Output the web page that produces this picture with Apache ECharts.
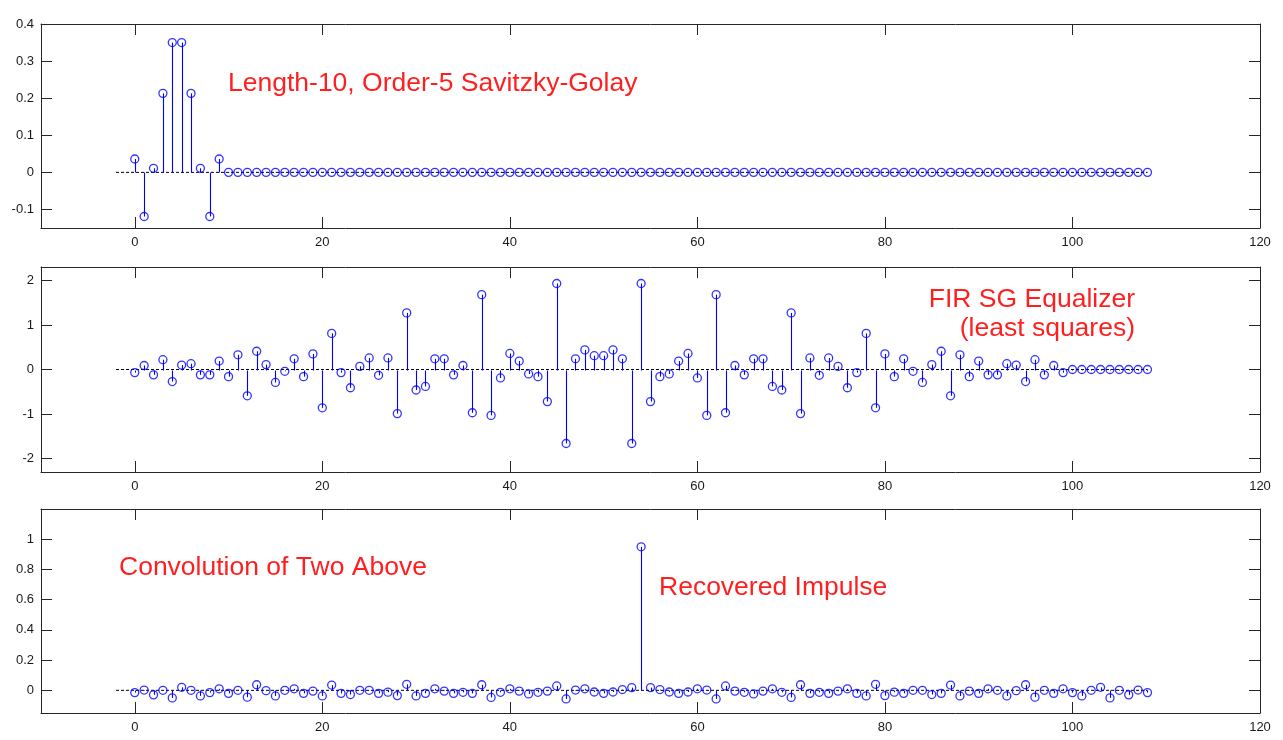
<!DOCTYPE html>
<html>
<head>
<meta charset="utf-8">
<title>Savitzky-Golay filter, equalizer and their convolution</title>
<script src="https://cdn.jsdelivr.net/npm/echarts@6/dist/echarts.min.js"></script>
<style>
  html, body { margin: 0; padding: 0; background: #ffffff; }
  #chart { width: 1283px; height: 740px; }
</style>
</head>
<body>
<div id="chart"></div>
<script>
// Tick positions for the shared sample axis and the three amplitude axes
const xTicks = [0, 20, 40, 60, 80, 100, 120];
const sgTicks = [-0.1, 0, 0.1, 0.2, 0.3, 0.4];
const eqTicks = [-2, -1, 0, 1, 2];
const convTicks = [0, 0.2, 0.4, 0.6, 0.8, 1];

// Length-10, order-5 Savitzky-Golay impulse response, shown over 109 samples
const sgFilter = [
  0.036, -0.119, 0.011, 0.213, 0.350, 0.350, 0.213, 0.011, -0.119, 0.036,
  0, 0, 0, 0, 0, 0, 0, 0, 0, 0,
  0, 0, 0, 0, 0, 0, 0, 0, 0, 0,
  0, 0, 0, 0, 0, 0, 0, 0, 0, 0,
  0, 0, 0, 0, 0, 0, 0, 0, 0, 0,
  0, 0, 0, 0, 0, 0, 0, 0, 0, 0,
  0, 0, 0, 0, 0, 0, 0, 0, 0, 0,
  0, 0, 0, 0, 0, 0, 0, 0, 0, 0,
  0, 0, 0, 0, 0, 0, 0, 0, 0, 0,
  0, 0, 0, 0, 0, 0, 0, 0, 0, 0,
  0, 0, 0, 0, 0, 0, 0, 0, 0
];

// Least-squares FIR equalizer (100 taps, then zeros)
const equalizer = [
  -0.07, 0.09, -0.12, 0.22, -0.27, 0.10, 0.13, -0.12, -0.12, 0.19,
  -0.16, 0.33, -0.59, 0.41, 0.11, -0.29, -0.04, 0.24, -0.16, 0.35,
  -0.86, 0.81, -0.07, -0.41, 0.07, 0.26, -0.13, 0.26, -0.99, 1.27,
  -0.46, -0.38, 0.24, 0.24, -0.12, 0.09, -0.97, 1.68, -1.03, -0.19,
  0.36, 0.19, -0.10, -0.16, -0.72, 1.93, -1.66, 0.24, 0.44, 0.31,
  0.31, 0.44, 0.24, -1.66, 1.93, -0.72, -0.16, -0.10, 0.19, 0.36,
  -0.19, -1.03, 1.68, -0.97, 0.09, -0.12, 0.24, 0.24, -0.38, -0.46,
  1.27, -0.99, 0.26, -0.13, 0.26, 0.07, -0.41, -0.07, 0.81, -0.86,
  0.35, -0.16, 0.24, -0.04, -0.29, 0.11, 0.41, -0.59, 0.33, -0.16,
  0.19, -0.12, -0.12, 0.13, 0.10, -0.27, 0.22, -0.12, 0.09, -0.07,
  0, 0, 0, 0, 0, 0, 0, 0, 0
];

// Filter convolved with equalizer: an approximate delayed impulse
const convolution = [
  -0.015, 0.002, -0.030, 0.000, -0.050, 0.020, 0.000, -0.037, -0.015, 0.010,
  -0.020, 0.000, -0.045, 0.037, -0.002, -0.037, 0.000, 0.010, -0.020, -0.005,
  -0.037, 0.035, -0.020, -0.028, 0.000, 0.000, -0.020, -0.012, -0.035, 0.040,
  -0.037, -0.020, 0.010, -0.005, -0.020, -0.013, -0.020, 0.037, -0.047, -0.013,
  0.010, -0.005, -0.024, -0.013, -0.005, 0.029, -0.057, 0.002, 0.010, -0.011,
  -0.020, -0.011, 0.005, 0.018, 0.950, 0.018, 0.005, -0.011, -0.020, -0.011,
  0.010, 0.002, -0.057, 0.029, -0.005, -0.013, -0.024, -0.005, 0.010, -0.013,
  -0.047, 0.037, -0.020, -0.013, -0.020, -0.005, 0.010, -0.020, -0.037, 0.040,
  -0.035, -0.012, -0.020, 0.000, 0.000, -0.028, -0.020, 0.035, -0.037, -0.005,
  -0.020, 0.010, 0.000, -0.037, -0.002, 0.037, -0.045, 0.000, -0.020, 0.010,
  -0.015, -0.037, 0.000, 0.020, -0.050, 0.000, -0.030, 0.002, -0.015
];

// Extent of the dashed stem baseline, in samples
const baselineRange = [-2, 108];

const FONT = "'Liberation Sans', Arial, Helvetica, sans-serif";
const AXIS_COLOR = '#262626';
const STEM_COLOR = '#0000ff';
const NOTE_COLOR = '#ff1f1f';

const panels = [
  { values: sgFilter,    yMin: -0.15, yMax: 0.4,  yTicks: sgTicks,   top: 24,  height: 204 },
  { values: equalizer,   yMin: -2.3,  yMax: 2.3,  yTicks: eqTicks,   top: 267, height: 205 },
  { values: convolution, yMin: -0.15, yMax: 1.2,  yTicks: convTicks, top: 509, height: 204 }
];

const chart = echarts.init(document.getElementById('chart'), null, { renderer: 'canvas' });

const grids = [], xAxes = [], yAxes = [], series = [];

function tickStyle(values) {
  return { show: true, inside: true, length: 11, customValues: values,
           lineStyle: { color: AXIS_COLOR, width: 1 } };
}
const lineStyleAxis = { show: true, onZero: false, lineStyle: { color: AXIS_COLOR, width: 1 } };
const labelText = { fontSize: 13, color: '#1a1a1a', fontFamily: FONT };

// Vertical stem from the zero line up (or down) to the sample value
function renderStem(params, api) {
  const n = api.value(0);
  const v = api.value(1);
  const base = api.coord([n, 0]);
  const tip = api.coord([n, v]);
  const px = Math.round(base[0]) + 0.5;
  return {
    type: 'line',
    shape: { x1: px, y1: Math.round(base[1]) + 0.5, x2: px, y2: tip[1] },
    style: { stroke: STEM_COLOR, lineWidth: 1.1 }
  };
}

panels.forEach((p, i) => {
  grids.push({ left: 41, width: 1219, top: p.top, height: p.height, containLabel: false });

  // bottom axis with labels, top axis mirrors the ticks
  xAxes.push(Object.assign({
    gridIndex: i, type: 'value', min: -10, max: 120, position: 'bottom',
    axisLine: lineStyleAxis, axisTick: tickStyle(xTicks), splitLine: { show: false }
  }, { axisLabel: Object.assign({ customValues: xTicks, margin: 8 }, labelText) }));
  xAxes.push({
    gridIndex: i, type: 'value', min: -10, max: 120, position: 'top',
    axisLine: lineStyleAxis, axisTick: tickStyle(xTicks), splitLine: { show: false },
    axisLabel: { show: false }
  });
  yAxes.push({
    gridIndex: i, type: 'value', min: p.yMin, max: p.yMax, position: 'left',
    axisLine: lineStyleAxis, axisTick: tickStyle(p.yTicks), splitLine: { show: false },
    axisLabel: Object.assign({ customValues: p.yTicks, margin: 7 }, labelText)
  });
  yAxes.push({
    gridIndex: i, type: 'value', min: p.yMin, max: p.yMax, position: 'right',
    axisLine: lineStyleAxis, axisTick: tickStyle(p.yTicks), splitLine: { show: false },
    axisLabel: { show: false }
  });

  const pts = p.values.map((v, n) => [n, v]);

  series.push({
    type: 'line', xAxisIndex: 2 * i, yAxisIndex: 2 * i, z: 1,
    data: baselineRange.map(n => [n, 0]), symbol: 'none', silent: true,
    lineStyle: { color: '#000000', width: 1, type: [3, 2] }
  });
  series.push({
    type: 'custom', xAxisIndex: 2 * i, yAxisIndex: 2 * i, z: 2,
    data: pts, renderItem: renderStem, silent: true, clip: false
  });
  series.push({
    type: 'scatter', xAxisIndex: 2 * i, yAxisIndex: 2 * i, z: 3,
    data: pts, symbol: 'circle', symbolSize: 8, silent: true,
    itemStyle: { color: 'rgba(0,0,0,0)', borderColor: STEM_COLOR, borderWidth: 1.3 }
  });
});

function note(text, x, y, align) {
  return {
    type: 'text', z: 10, silent: true,
    style: { text: text, x: x, y: y, align: align, verticalAlign: 'middle',
             fill: NOTE_COLOR, font: "26.5px " + FONT }
  };
}

chart.setOption({
  animation: false,
  backgroundColor: '#ffffff',
  grid: grids,
  xAxis: xAxes,
  yAxis: yAxes,
  series: series,
  graphic: [
    note('Length-10, Order-5 Savitzky-Golay', 228, 84, 'left'),
    note('FIR SG Equalizer', 1135, 300, 'right'),
    note('(least squares)', 1135, 329, 'right'),
    note('Convolution of Two Above', 119, 568, 'left'),
    note('Recovered Impulse', 659, 588, 'left')
  ]
});
</script>
</body>
</html>
